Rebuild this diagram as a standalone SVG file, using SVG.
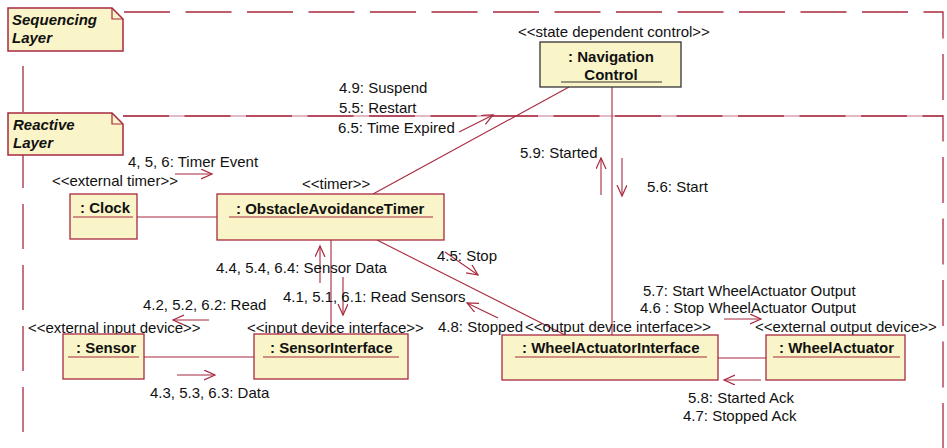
<svg xmlns="http://www.w3.org/2000/svg" width="947" height="448" viewBox="0 0 947 448">
<style>
text{font-family:"Liberation Sans",Arial,sans-serif;font-size:15px;fill:#111}
.b{font-weight:bold}
.bi{font-weight:bold;font-style:italic}
.frame{fill:none;stroke:#a8283f;stroke-width:1.3;stroke-dasharray:46 15.5}
.note{fill:#faf5c8;stroke:#a8283f;stroke-width:1.5}
.box{fill:#faf5c8;stroke:#a8283f;stroke-width:1.3}
.ul{stroke:#a8283f;stroke-width:1.2}
.conn{stroke:#a8283f;stroke-width:1.1;fill:none}
.msg{stroke:#a8283f;stroke-width:1.1;fill:none;marker-end:url(#ah)}
</style>
<defs>
<marker id="ah" markerUnits="userSpaceOnUse" markerWidth="14" markerHeight="12" refX="11" refY="5" orient="auto">
<path d="M0,0 L11,5 L0,10" fill="none" stroke="#a8283f" stroke-width="1.2"/>
</marker>
</defs>

<g id="frames">
<line x1="123" y1="116" x2="943" y2="116" stroke="#d9a0ae" stroke-width="1.3"/>
<path class="frame" d="M124,12 H943 V116"/>
<path class="frame" d="M123,116 H943 V448"/>
<line x1="23" y1="66" x2="23" y2="112" stroke="#a8283f" stroke-width="1.3"/>
<line x1="23" y1="143" x2="23" y2="448" stroke="#a8283f" stroke-width="1.3" stroke-dasharray="45 16"/>
</g>

<g id="note-sequencing">
<path class="note" d="M8,8 H112 L123,19 V51 H8 Z"/>
<path d="M112,8 V19 H123" fill="none" stroke="#a8283f" stroke-width="1.2"/>
<text class="bi" x="12" y="25">Sequencing</text>
<text class="bi" x="12" y="43">Layer</text>
</g>
<g id="note-reactive">
<path class="note" d="M8,113 H112 L123,124 V155 H8 Z"/>
<path d="M112,113 V124 H123" fill="none" stroke="#a8283f" stroke-width="1.2"/>
<text class="bi" x="13" y="130">Reactive</text>
<text class="bi" x="13" y="148">Layer</text>
</g>

<g id="connectors">
<line class="conn" x1="137" y1="217" x2="217" y2="217"/>
<line class="conn" x1="373" y1="194" x2="569" y2="87"/>
<line class="conn" x1="612" y1="87" x2="612" y2="335"/>
<line class="conn" x1="331" y1="240" x2="331" y2="334"/>
<line class="conn" x1="377" y1="240" x2="565" y2="335"/>
<line class="conn" x1="144" y1="357" x2="254" y2="357"/>
<line class="conn" x1="718" y1="358" x2="766" y2="358"/>
<line class="msg" x1="175" y1="174" x2="212" y2="174"/>
<line class="msg" x1="459" y1="132" x2="493" y2="115"/>
<line class="msg" x1="601" y1="195" x2="601" y2="158"/>
<line class="msg" x1="622" y1="158" x2="622" y2="196"/>
<line class="msg" x1="320" y1="283" x2="320" y2="246"/>
<line class="msg" x1="343" y1="277" x2="343" y2="315"/>
<line class="msg" x1="209" y1="320" x2="173" y2="320"/>
<line class="msg" x1="177" y1="375" x2="215" y2="375"/>
<line class="msg" x1="445" y1="252" x2="478" y2="275"/>
<line class="msg" x1="498" y1="318" x2="467" y2="303"/>
<line class="msg" x1="724" y1="319" x2="761" y2="319"/>
<line class="msg" x1="761" y1="380" x2="724" y2="380"/>
</g>

<g id="navigation-control">
<text x="518" y="37">&lt;&lt;state dependent control&gt;&gt;</text>
<rect x="540" y="42" width="141" height="45" fill="#faf5c8" stroke="#333" stroke-width="1.3"/>
<text class="b" x="611" y="62" text-anchor="middle">: Navigation</text>
<text class="b" x="611" y="80" text-anchor="middle">Control</text>
<line x1="561" y1="82" x2="662" y2="82" stroke="#333" stroke-width="1.2"/>
</g>

<g id="clock">
<text x="52" y="186">&lt;&lt;external timer&gt;&gt;</text>
<rect class="box" x="70" y="194" width="67" height="45"/>
<text class="b" x="80" y="213">: Clock</text>
<line class="ul" x1="73" y1="217" x2="133" y2="217"/>
</g>

<g id="obstacle-avoidance-timer">
<text x="302" y="189">&lt;&lt;timer&gt;&gt;</text>
<rect class="box" x="217" y="194" width="227" height="46"/>
<text class="b" x="236" y="214">: ObstacleAvoidanceTimer</text>
<line class="ul" x1="229" y1="217" x2="433" y2="217"/>
</g>

<g id="sensor">
<text x="28" y="333">&lt;&lt;external input device&gt;&gt;</text>
<rect class="box" x="63" y="334" width="81" height="45"/>
<text class="b" x="76" y="353">: Sensor</text>
<line class="ul" x1="68" y1="357" x2="139" y2="357"/>
</g>

<g id="sensor-interface">
<text x="247" y="333">&lt;&lt;input device interface&gt;&gt;</text>
<rect class="box" x="254" y="334" width="154" height="45"/>
<text class="b" x="270" y="353">: SensorInterface</text>
<line class="ul" x1="263" y1="357" x2="399" y2="357"/>
</g>

<g id="wheel-actuator-interface">
<text x="525" y="332">&lt;&lt;output device interface&gt;&gt;</text>
<rect class="box" x="502" y="335" width="216" height="45"/>
<text class="b" x="522" y="353">: WheelActuatorInterface</text>
<line class="ul" x1="515" y1="357" x2="707" y2="357"/>
</g>

<g id="wheel-actuator">
<text x="755" y="332">&lt;&lt;external output device&gt;&gt;</text>
<rect class="box" x="766" y="335" width="139" height="45"/>
<text class="b" x="779" y="353">: WheelActuator</text>
<line class="ul" x1="773" y1="357" x2="900" y2="357"/>
</g>

<g id="labels">
<text x="339" y="93">4.9: Suspend</text>
<text x="339" y="113">5.5: Restart</text>
<text x="338" y="133">6.5: Time Expired</text>
<text x="128" y="167">4, 5, 6: Timer Event</text>
<text x="520" y="158">5.9: Started</text>
<text x="647" y="192">5.6: Start</text>
<text x="216" y="273">4.4, 5.4, 6.4: Sensor Data</text>
<text x="283" y="302">4.1, 5.1, 6.1: Read Sensors</text>
<text x="143" y="310">4.2, 5.2, 6.2: Read</text>
<text x="150" y="398">4.3, 5.3, 6.3: Data</text>
<text x="437" y="261">4.5: Stop</text>
<text x="438" y="332">4.8: Stopped</text>
<text x="643" y="296">5.7: Start WheelActuator Output</text>
<text x="640" y="313">4.6 : Stop WheelActuator Output</text>
<text x="688" y="403">5.8: Started Ack</text>
<text x="683" y="421">4.7: Stopped Ack</text>
</g>
</svg>
